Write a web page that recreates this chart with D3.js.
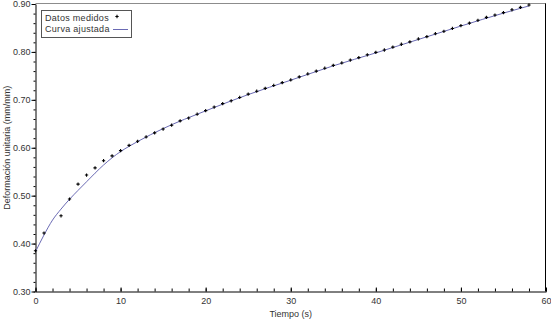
<!DOCTYPE html>
<html>
<head>
<meta charset="utf-8">
<script src="https://cdn.jsdelivr.net/npm/d3@7"></script>
<style>
  body { margin: 0; background: #fff; }
  svg { display: block; }
  text { font-family: "Liberation Sans", Arial, sans-serif; fill: #333; }
</style>
</head>
<body>
<div id="chart"></div>
<script>
// measured points (time s, strain mm/mm)
var tiempos = [0, 1, 3, 4, 5, 6, 7, 8, 9, 10, 11, 12, 13, 14, 15, 16, 17, 18, 19, 20,
  21, 22, 23, 24, 25, 26, 27, 28, 29, 30, 31, 32, 33, 34, 35, 36, 37, 38, 39, 40,
  41, 42, 43, 44, 45, 46, 47, 48, 49, 50, 51, 52, 53, 54, 55, 56, 57, 58];
var deformacion = [0.385, 0.422, 0.458, 0.493, 0.524, 0.543, 0.558, 0.573, 0.583, 0.594,
  0.605, 0.6135, 0.6225, 0.631, 0.639, 0.647, 0.656, 0.662, 0.670, 0.6775,
  0.685, 0.692, 0.698, 0.705, 0.712, 0.718, 0.724, 0.730, 0.736, 0.7415,
  0.748, 0.754, 0.760, 0.766, 0.772, 0.777, 0.783, 0.788, 0.794, 0.799,
  0.804, 0.810, 0.816, 0.821, 0.827, 0.832, 0.838, 0.843, 0.849, 0.855,
  0.860, 0.866, 0.872, 0.877, 0.882, 0.888, 0.893, 0.898];

// fitted curve
var curvaT = [0, 1, 2, 3, 4, 5, 6, 7, 8, 9, 10, 11, 12, 15, 20, 25, 30, 35, 40, 45, 50, 55, 58];
var curvaY = [0.383, 0.418, 0.449, 0.472, 0.4925, 0.511, 0.529, 0.547, 0.564, 0.579, 0.592,
  0.603, 0.613, 0.640, 0.677, 0.711, 0.741, 0.771, 0.798, 0.826, 0.854, 0.881, 0.896];

var xTicks = [0, 10, 20, 30, 40, 50, 60];
var yTicks = [0.30, 0.40, 0.50, 0.60, 0.70, 0.80, 0.90];

var Width = 551, Height = 321;
var FontSize = 9;
var svg = d3.select("#chart").append("svg")
  .attr("width", Width)
  .attr("height", Height);

var x = d3.scaleLinear().domain([0, 60]).range([35.5, 546]);
var y = d3.scaleLinear().domain([0.3, 0.9]).range([291.5, 4]);

// frame: top grey, right black
svg.append("line")
  .attr("x1", x(0)).attr("x2", x(60)).attr("y1", 3.5).attr("y2", 3.5)
  .attr("stroke", "#8c8c8c");
svg.append("line")
  .attr("x1", 545.5).attr("x2", 545.5).attr("y1", 3.5).attr("y2", 291.5)
  .attr("stroke", "#000");

// minor ticks
var yMinor = d3.range(30, 91, 2).map(d => d / 100);
var xMinor = d3.range(0, 61, 2);

svg.append("g")
  .attr("transform", "translate(" + x(0) + ",0)")
  .call(d3.axisLeft(y).tickValues(yMinor).tickSize(2).tickSizeOuter(0).tickFormat(""))
  .call(g => g.select(".domain").remove());
svg.append("g")
  .attr("transform", "translate(0," + y(0.3) + ")")
  .call(d3.axisBottom(x).tickValues(xMinor).tickSize(-3).tickSizeOuter(0).tickFormat(""))
  .call(g => g.select(".domain").remove());

// major axes
svg.append("g")
  .attr("transform", "translate(" + x(0) + ",0)")
  .call(d3.axisLeft(y).tickValues(yTicks).tickSize(4).tickSizeOuter(0)
    .tickPadding(1).tickFormat(d3.format(".2f")));
svg.append("g")
  .attr("transform", "translate(0," + y(0.3) + ")")
  .call(d3.axisBottom(x).tickValues(xTicks).tickSize(-4).tickSizeOuter(0)
    .tickPadding(6).tickFormat(d3.format("d")));

svg.selectAll(".tick line").attr("stroke", "#000");
svg.selectAll(".domain").attr("stroke", "#000");
svg.selectAll(".tick text")
  .attr("font-family", "'Liberation Sans', Arial, sans-serif")
  .attr("font-size", FontSize)
  .attr("fill", "#333");

// titles
svg.append("text")
  .attr("x", (x(0) + x(60)) / 2)
  .attr("y", 317)
  .attr("text-anchor", "middle")
  .attr("font-size", FontSize)
  .text("Tiempo (s)");
svg.append("text")
  .attr("transform", "translate(10," + (y(0.3) + y(0.9)) / 2 + ") rotate(-90)")
  .attr("text-anchor", "middle")
  .attr("font-size", FontSize)
  .text("Deformación unitaria (mm/mm)");

// fitted curve
var curvePts = curvaT.map((t, i) => [t, curvaY[i]]);
var lineDrawer = d3.line()
  .x(d => x(d[0]))
  .y(d => y(d[1]))
  .curve(d3.curveMonotoneX);
svg.append("path")
  .attr("d", lineDrawer(curvePts))
  .attr("fill", "none")
  .attr("stroke", "#6a6ab4")
  .attr("stroke-width", 1);

// points
var marker = d3.symbol().type(d3.symbolCross).size(6);
var puntos = tiempos.map((t, i) => ({ t: t, v: deformacion[i] }));
svg.append("g").selectAll("path")
  .data(puntos)
  .enter()
  .append("path")
  .attr("transform", d => "translate(" + x(d.t) + "," + y(d.v) + ")")
  .attr("d", marker)
  .attr("fill", "#000");

// legend
var legend = svg.append("g");
legend.append("rect")
  .attr("x", 41.5).attr("y", 10.5).attr("width", 90).attr("height", 27)
  .attr("fill", "#fff").attr("stroke", "#555");
legend.append("text").attr("x", 45).attr("y", 20.5).attr("font-size", FontSize)
  .attr("letter-spacing", 0.3).text("Datos medidos");
legend.append("text").attr("x", 45).attr("y", 31.5).attr("font-size", FontSize)
  .attr("letter-spacing", 0.3).text("Curva ajustada");
legend.append("path")
  .attr("transform", "translate(117,16.5)")
  .attr("d", marker)
  .attr("fill", "#000");
legend.append("line")
  .attr("x1", 113).attr("x2", 128).attr("y1", 29.5).attr("y2", 29.5)
  .attr("stroke", "#6a6ab4");
</script>
</body>
</html>
